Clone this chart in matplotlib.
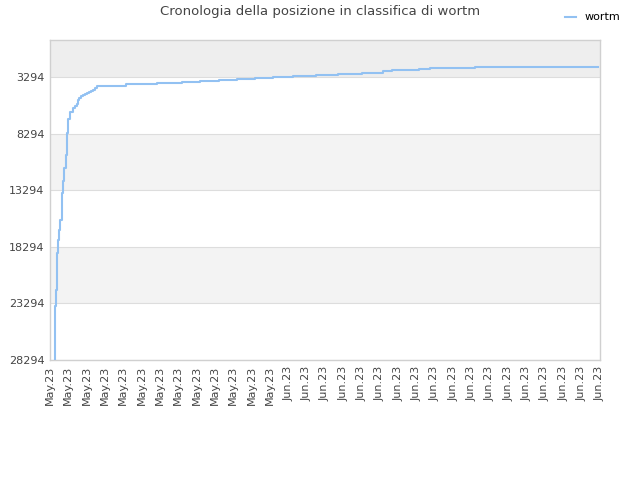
import matplotlib
matplotlib.use("Agg")
import matplotlib.pyplot as plt
import pandas as pd

times = [
    "2023-05-19 06:30", "2023-05-19 06:45", "2023-05-19 07:00", "2023-05-19 07:55",
    "2023-05-19 08:50", "2023-05-19 09:35", "2023-05-19 10:50", "2023-05-19 12:15",
    "2023-05-19 13:25", "2023-05-19 15:20", "2023-05-19 16:05", "2023-05-19 17:30",
    "2023-05-19 18:45", "2023-05-19 20:50", "2023-05-19 21:50", "2023-05-19 22:35",
    "2023-05-19 23:15", "2023-05-20 00:00", "2023-05-20 02:10", "2023-05-20 05:45",
    "2023-05-20 08:40", "2023-05-20 11:45", "2023-05-20 13:00", "2023-05-20 14:25",
    "2023-05-20 16:05", "2023-05-20 19:10", "2023-05-20 21:50", "2023-05-21 00:30",
    "2023-05-21 03:20", "2023-05-21 06:00", "2023-05-21 08:40", "2023-05-21 10:50",
    "2023-05-21 13:55",
    "2023-05-23 03:35", "2023-05-24 19:40", "2023-05-26 04:20", "2023-05-27 04:20",
    "2023-05-28 05:15", "2023-05-29 04:50", "2023-05-30 04:20", "2023-05-31 03:35",
    "2023-06-01 06:15", "2023-06-02 12:15", "2023-06-03 17:30", "2023-06-05 00:30",
    "2023-06-06 03:35", "2023-06-06 15:10", "2023-06-07 03:10", "2023-06-08 03:10",
    "2023-06-08 17:00", "2023-06-11 04:20", "2023-06-17 21:35",
]
ranks = [
    28294, 25300, 23550, 22075,
    20600, 18840, 17660, 16780,
    15900, 14720, 13540, 12510,
    11330, 10150, 8980, 8240,
    7914, 6942, 6360, 6006,
    5856, 5617, 5264, 5100,
    4972, 4890, 4796, 4700,
    4593, 4490, 4381, 4240,
    4062,
    3915, 3800, 3710, 3590,
    3500, 3415, 3330, 3240,
    3150, 3060, 2967, 2879,
    2782, 2694, 2614, 2526,
    2437, 2358, 2358,
]
y_ticks = [3294, 8294, 13294, 18294, 23294, 28294]
tick_days = pd.date_range("2023-05-19", "2023-06-18", freq="D")
series_name = "wortm"
title = "Cronologia della posizione in classifica di wortm"

t = pd.to_datetime(times)

fig = plt.figure(figsize=(6.4, 4.8), dpi=100)
ax = fig.add_axes([50/640, 1-360/480, 550/640, 320/480])

# background bands
ax.axhspan(0, y_ticks[0], color="#eeeeee", zorder=0, lw=0)
ax.axhspan(y_ticks[1], y_ticks[2], color="#f3f3f3", zorder=0, lw=0)
ax.axhspan(y_ticks[3], y_ticks[4], color="#f3f3f3", zorder=0, lw=0)
for yv in y_ticks:
    ax.axhline(yv, color="#dddddd", lw=0.8, zorder=1)

ax.plot(t, ranks, drawstyle="steps-post", color="#92c1f2", lw=1.5, zorder=3, label=series_name)

ax.set_ylim(28294, 0)
ax.set_yticks(y_ticks)
ax.set_yticklabels([str(v) for v in y_ticks])
ax.set_xlim(tick_days[0], tick_days[-1])
ax.set_xticks(tick_days)
ax.set_xticklabels([d.strftime("%b.%y") for d in tick_days], rotation=90)
ax.tick_params(axis="both", length=0, labelsize=8, colors="#444444", pad=4)

for s in ax.spines.values():
    s.set_color("#d0d0d0")
    s.set_linewidth(1)

fig.text(0.5, 1-12/480, title, ha="center", va="center", fontsize=9.5, color="#444444")
fig.legend(loc="upper right", bbox_to_anchor=(0.985, 0.995), frameon=False, fontsize=8,
           handlelength=1.0, handletextpad=0.8)

fig.savefig("out.png", dpi=100)
